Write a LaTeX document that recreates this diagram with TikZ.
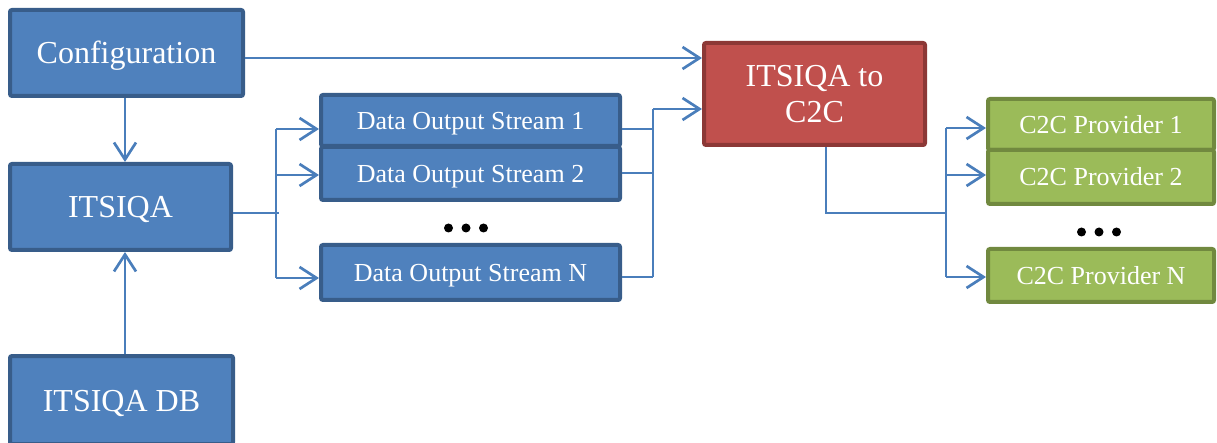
\documentclass[tikz,border=0pt]{standalone}
\usepackage{fontspec}
\setmainfont{Liberation Serif}
\usetikzlibrary{arrows.meta}
\definecolor{bfill}{HTML}{4F81BD}
\definecolor{bdraw}{HTML}{385D8A}
\definecolor{rfill}{HTML}{C0504D}
\definecolor{rdraw}{HTML}{8C3836}
\definecolor{gfill}{HTML}{9BBB59}
\definecolor{gdraw}{HTML}{71893F}
\definecolor{conncol}{HTML}{4A7EBB}
\tikzset{
  boxbase/.style={rectangle, rounded corners=2pt, line width=4pt, text=white, inner sep=0pt, align=center},
  bluebox/.style={boxbase, fill=bfill, draw=bdraw, font=\fontsize{32}{36}\selectfont, text height=22pt, text depth=0pt},
  streambox/.style={boxbase, fill=bfill, draw=bdraw, font=\fontsize{26}{30}\selectfont, minimum width=299pt, text height=18pt, text depth=0pt},
  redbox/.style={boxbase, fill=rfill, draw=rdraw, font=\fontsize{32}{36}\selectfont},
  greenbox/.style={boxbase, fill=gfill, draw=gdraw, font=\fontsize{26}{30}\selectfont, minimum width=226pt, text height=18pt, text depth=0pt},
  conn/.style={draw=conncol, line width=2.7pt},
  arr/.style={conn, -{Straight Barb[length=17pt,width=22pt,line width=2.7pt]}},
  dotmark/.style={fill=black}
}
\begin{document}
\begin{tikzpicture}[x=1pt,y=-1pt]
\useasboundingbox (0,0) rectangle (1217,443);
\clip (0,0) rectangle (1217,443);
% boxes
\node[bluebox, minimum width=233pt, minimum height=86pt] (cfg) at (126.5,53) {Configuration};
\node[bluebox, minimum width=221pt, minimum height=86pt] (itsiqa) at (120.5,207) {ITSIQA};
\node[bluebox, minimum width=223pt, minimum height=88pt] (db) at (121.5,400) {ITSIQA DB};
\node[streambox, minimum height=51pt] (s1) at (470.5,120.5) {Data Output Stream 1};
\node[streambox, minimum height=53pt] (s2) at (470.5,173.5) {Data Output Stream 2};
\node[streambox, minimum height=55pt] (sN) at (470.5,272.5) {Data Output Stream N};
\node[redbox, minimum width=221pt, minimum height=102pt] (red) at (814.5,94) {ITSIQA to\\C2C};
\node[greenbox, minimum height=51pt] (p1) at (1101,124.5) {C2C Provider 1};
\node[greenbox, minimum height=54pt] (p2) at (1101,177) {C2C Provider 2};
\node[greenbox, minimum height=53pt] (pN) at (1101,275.5) {C2C Provider N};
% dots
\foreach \x in {448.5,466,483.5} \fill[dotmark] (\x,228) circle (4.5);
\foreach \x in {1081.5,1099,1116.5} \fill[dotmark] (\x,232) circle (4.5);
% vertical arrows
\coordinate (v1) at (cfg.south -| 125,0);
\coordinate (v2) at (itsiqa.north -| 125,0);
\coordinate (v3) at (itsiqa.south -| 125,0);
\coordinate (v4) at (db.north -| 125,0);
\draw[arr] (v1) -- (v2);
\draw[arr] (v4) -- (v3);
% configuration to red
\coordinate (c1) at ([yshift=-5pt]cfg.east);
\draw[arr] (c1) -- (c1 -| red.west);
% left bus
\coordinate (bl1) at (276,129);
\coordinate (bl2) at (276,175);
\coordinate (bl3) at (276,278);
\coordinate (it1) at ([yshift=-6pt]itsiqa.east);
\draw[conn] (it1) -- ([xshift=3pt]bl1 |- it1);
\draw[conn] (bl1) -- (bl3);
\draw[arr] (bl1) -- (s1.west |- bl1);
\draw[arr] (bl2) -- (s2.west |- bl2);
\draw[arr] (bl3) -- (sN.west |- bl3);
% right bus
\coordinate (br0) at (653,109);
\coordinate (br1) at (653,129);
\coordinate (br2) at (653,173);
\coordinate (br3) at (653,277);
\draw[conn] (s1.east |- br1) -- (br1);
\draw[conn] (s2.east |- br2) -- (br2);
\draw[conn] (sN.east |- br3) -- (br3);
\draw[conn] (br0) -- (br3);
\draw[arr] (br0) -- (red.west |- br0);
% provider bus
\coordinate (rb) at ([xshift=11.5pt]red.south);
\coordinate (pb0) at (946,213);
\coordinate (pb1) at (946,128);
\coordinate (pb2) at (946,175);
\coordinate (pb3) at (946,277);
\draw[conn] (rb) |- (pb0);
\draw[conn] (pb1) -- (pb3);
\draw[arr] (pb1) -- (p1.west |- pb1);
\draw[arr] (pb2) -- (p2.west |- pb2);
\draw[arr] (pb3) -- (pN.west |- pb3);
\end{tikzpicture}
\end{document}
